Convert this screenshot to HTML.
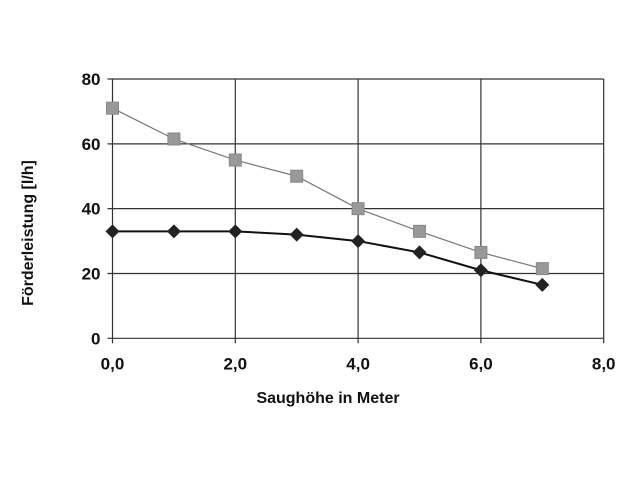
<!DOCTYPE html>
<html><head><meta charset="utf-8"><style>
body{margin:0;background:#fff}
svg text{font-family:"Liberation Sans",Arial,sans-serif;font-weight:bold;fill:#111}
</style></head><body>
<svg id="c" width="640" height="480" xmlns="http://www.w3.org/2000/svg">
<rect width="640" height="480" fill="#fff"/>
<text x="33" y="233" font-size="16" text-anchor="middle" transform="rotate(-90 33 233)">Förderleistung [l/h]</text>
<text x="328" y="403" font-size="16" text-anchor="middle">Saughöhe in Meter</text>
</svg>
<script>
const xTicks=[0,2,4,6,8];
const xTickLabels=["0,0","2,0","4,0","6,0","8,0"];
const yTicks=[0,20,40,60,80];
const yTickLabels=["0","20","40","60","80"];
const xValues=[0,1,2,3,4,5,6,7];
const seriesGray=[71,61.5,55,50,40,33,26.5,21.5];
const seriesBlack=[33,33,33,32,30,26.5,21,16.5];
const NS="http://www.w3.org/2000/svg";
const svg=document.getElementById('c');
const X=v=>112.5+v*61.4;
const Y=v=>338.3-v*3.241;
function mk(t,a){const e=document.createElementNS(NS,t);for(const k in a)e.setAttribute(k,a[k]);svg.appendChild(e);return e;}
const g=mk('g',{});


yTicks.forEach((v,i)=>{
 const l=mk('line',{x1:X(0)-5,x2:X(8),y1:Y(v),y2:Y(v),stroke:'#333','stroke-width':1.2});
 
 
 const t=mk('text',{x:X(0)-12,y:Y(v)+6,'font-size':17,'text-anchor':'end'});
 t.textContent=yTickLabels[i];
 
 
});
xTicks.forEach((v,i)=>{
 const l=mk('line',{x1:X(v),x2:X(v),y1:Y(80),y2:Y(0)+5,stroke:'#333','stroke-width':1.2});
 
 
 const t=mk('text',{x:X(v),y:Y(0)+31,'font-size':17,'text-anchor':'middle'});
 t.textContent=xTickLabels[i];
 
 
});
function series(vals,color,w,shape,name){
 const pl=mk('polyline',{points:vals.map((v,i)=>X(xValues[i])+','+Y(v)).join(' '),fill:'none',stroke:color,'stroke-width':w});
 
 
 vals.forEach((v,i)=>{
  const cx=X(xValues[i]),cy=Y(v);
  let m;
  if(shape==='sq')m=mk('rect',{x:cx-6,y:cy-6,width:12,height:12,fill:'#999',stroke:'#888'});
  else m=mk('polygon',{points:`${cx},${cy-7} ${cx+7},${cy} ${cx},${cy+7} ${cx-7},${cy}`,fill:'#222'});
  
  
 });
}
series(seriesGray,'#777',1.2,'sq','gray-series');
series(seriesBlack,'#111',2,'dm','black-series');
</script>
</body></html>
